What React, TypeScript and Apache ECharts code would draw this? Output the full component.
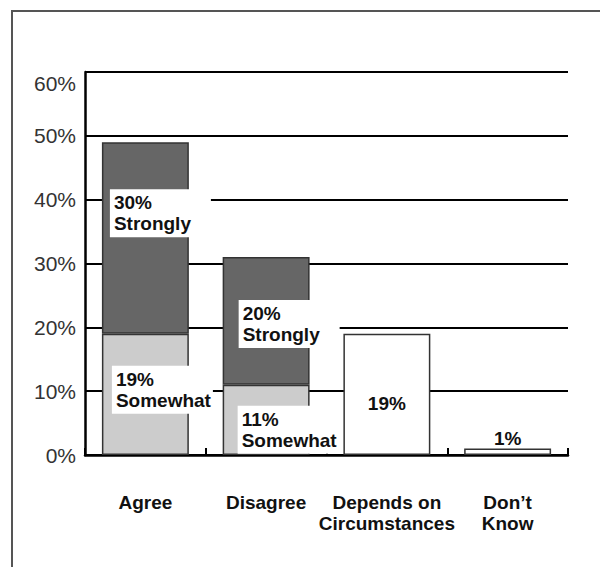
import React, { useEffect, useRef } from "react";
import * as echarts from "echarts";

// Survey response shares, in percent
const categories = ["Agree", "Disagree", "Depends on\nCircumstances", "Don\u2019t\nKnow"];
const somewhatValues: (number | string)[] = [19, 11, "-", "-"];
const stronglyValues: (number | string)[] = [30, 20, "-", "-"];
const otherValues: (number | string)[] = ["-", "-", 19, 1];
const yTicks = [0, 10, 20, 30, 40, 50, 60];

// Where each white label box sits inside its bar segment (px from the segment's top-left)
const somewhatLabelAt = [[10, 32], [15, 21]];
const stronglyLabelAt = [[8, 47], [16, 43]];

const FONT = "'Liberation Sans', Arial, Helvetica, sans-serif";

const boxLabel = {
  show: true,
  fontFamily: FONT,
  fontSize: 19,
  fontWeight: "bold" as const,
  color: "#111",
  lineHeight: 21,
  backgroundColor: "#fff",
  padding: [3, 2, 3, 4],
  width: 95,
  align: "left" as const,
  verticalAlign: "top" as const,
};

function withLabelPos(values: (number | string)[], name: string, at: number[][]) {
  return values.map((v, i) =>
    v === "-"
      ? v
      : {
          value: v,
          label: {
            ...boxLabel,
            position: at[i],
            formatter: `{c}%\n${name}`,
          },
        }
  );
}

export default function App() {
  const ref = useRef<HTMLDivElement>(null);

  useEffect(() => {
    if (!ref.current) return;
    const chart = echarts.init(ref.current, undefined, { renderer: "svg" });
    const border = { borderColor: "#333", borderWidth: 1.5 };

    chart.setOption({
      animation: false,
      backgroundColor: "#fff",
      graphic: [
        {
          type: "rect",
          shape: { x: 12, y: 11, width: 640, height: 620 },
          style: { fill: "none", stroke: "#555", lineWidth: 2 },
          silent: true,
          z: -1,
        },
      ],
      grid: { left: 85, right: 32, top: 72, bottom: 112, containLabel: false },
      xAxis: {
        type: "category",
        data: categories,
        axisLine: { show: true, lineStyle: { color: "#000", width: 2.5 } },
        axisTick: { show: true, inside: true, length: 7, lineStyle: { color: "#000", width: 2 } },
        axisLabel: {
          margin: 37,
          fontFamily: FONT,
          fontSize: 19,
          fontWeight: "bold",
          color: "#111",
          lineHeight: 21,
          interval: 0,
        },
        splitLine: { show: false },
      },
      yAxis: {
        type: "value",
        min: yTicks[0],
        max: yTicks[yTicks.length - 1],
        interval: 10,
        axisLine: { show: true, lineStyle: { color: "#000", width: 2.5 } },
        axisTick: { show: false },
        splitLine: { show: true, lineStyle: { color: "#000", width: 2 } },
        axisLabel: {
          margin: 9,
          fontFamily: FONT,
          fontSize: 21,
          color: "#333",
          formatter: (v: number) =>
            v === yTicks[yTicks.length - 1] ? `{top|${v}%}` : `${v}%`,
          rich: {
            top: { fontFamily: FONT, fontSize: 21, color: "#333", padding: [22, 0, 0, 0] },
          },
        },
      },
      series: [
        {
          name: "Somewhat",
          type: "bar",
          stack: "total",
          barWidth: "72%",
          itemStyle: { color: "#cccccc", ...border },
          data: withLabelPos(somewhatValues, "Somewhat", somewhatLabelAt),
        },
        {
          name: "Strongly",
          type: "bar",
          stack: "total",
          barWidth: "72%",
          itemStyle: { color: "#666666", ...border },
          data: withLabelPos(stronglyValues, "Strongly", stronglyLabelAt),
        },
        {
          name: "Other",
          type: "bar",
          stack: "total",
          barWidth: "72%",
          itemStyle: { color: "#ffffff", ...border },
          label: {
            show: true,
            fontFamily: FONT,
            fontSize: 19,
            fontWeight: "bold",
            color: "#111",
            formatter: "{c}%",
          },
          data: otherValues.map((v, i) =>
            v === "-"
              ? v
              : {
                  value: v,
                  label:
                    i === 2
                      ? { position: "inside", offset: [0, 9] }
                      : { position: "top", distance: 1 },
                }
          ),
        },
      ],
    });

    return () => chart.dispose();
  }, []);

  return (
    <div
      ref={ref}
      style={{ position: "fixed", left: 0, top: 0, width: 600, height: 567 }}
    />
  );
}
